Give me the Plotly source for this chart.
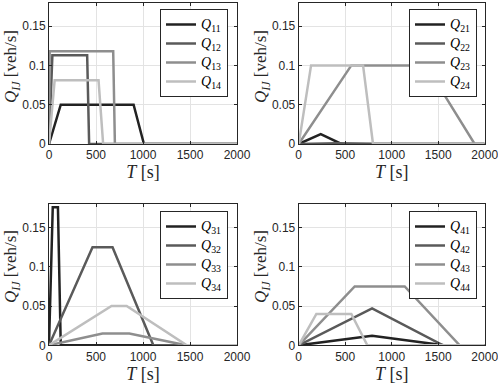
import plotly.graph_objects as go

# demand profiles Q_IJ(T)
t11 = [0, 125, 900, 1010, 2000]
q11 = [0, 0.05, 0.05, 0, 0]
t12 = [0, 36, 406, 427, 2000]
q12 = [0, 0.113, 0.113, 0, 0]
t13 = [0, 7, 683, 701, 2000]
q13 = [0, 0.118, 0.118, 0, 0]
t14 = [0, 60, 527, 576, 2000]
q14 = [0, 0.081, 0.081, 0, 0]

t21 = [0, 237, 459, 2000]
q21 = [0, 0.0127, 0, 0]
t22 = [0, 420, 820, 2000]
q22 = [0, 0.001, 0, 0]
t23 = [0, 566, 1370, 1892, 2000]
q23 = [0, 0.1, 0.1, 0, 0]
t24 = [0, 133, 692, 799, 2000]
q24 = [0, 0.1, 0.1, 0, 0]

t31 = [0, 40, 95, 125, 2000]
q31 = [0, 0.176, 0.176, 0, 0]
t32 = [0, 463, 676, 1110, 2000]
q32 = [0, 0.125, 0.125, 0, 0]
t33 = [0, 569, 854, 1459, 2000]
q33 = [0, 0.015, 0.015, 0, 0]
t34 = [0, 665, 826, 1466, 2000]
q34 = [0, 0.05, 0.05, 0, 0]

t41 = [0, 789, 1560, 2000]
q41 = [0, 0.012, 0, 0]
t42 = [0, 789, 1552, 2000]
q42 = [0, 0.047, 0, 0]
t43 = [0, 602, 1140, 1731, 2000]
q43 = [0, 0.075, 0.075, 0, 0]
t44 = [0, 190, 566, 738, 2000]
q44 = [0, 0.04, 0.04, 0, 0]

panels = [
    [(t11, q11, '11'), (t12, q12, '12'), (t13, q13, '13'), (t14, q14, '14')],
    [(t21, q21, '21'), (t22, q22, '22'), (t23, q23, '23'), (t24, q24, '24')],
    [(t31, q31, '31'), (t32, q32, '32'), (t33, q33, '33'), (t34, q34, '34')],
    [(t41, q41, '41'), (t42, q42, '42'), (t43, q43, '43'), (t44, q44, '44')],
]
colors = ['#222222', '#5a5a5a', '#8e8e8e', '#bebebe']

W, H = 498, 384
# plot areas in pixels: (left, right, top, bottom)
boxes = [(49, 237, 2.5, 144), (298.7, 484.7, 2.5, 144),
         (49, 237, 204, 345.3), (298.7, 484.7, 204, 345.3)]
legpos = [(228, 9), (477, 9), (228, 211), (477, 211)]
ytitle = [(12, 67), (262, 67), (12, 267), (262, 267)]

serif = 'Liberation Serif'
sans = 'Liberation Sans'
axcol = '#262626'

fig = go.Figure()
layout = dict(width=W, height=H, margin=dict(l=0, r=0, t=0, b=0),
              paper_bgcolor='white', plot_bgcolor='white')
annots = []

for i, series in enumerate(panels):
    n = '' if i == 0 else str(i + 1)
    leg = 'legend' + n
    for (t, q, lab), c in zip(series, colors):
        fig.add_trace(go.Scatter(
            x=t, y=q, mode='lines', line=dict(color=c, width=2.5),
            name='<span style="font-size:14px"><i>Q</i><sub>' + lab + '</sub></span>',
            xaxis='x' + n, yaxis='y' + n, legend=leg))
    l, r, tp, b = boxes[i]
    common = dict(showline=True, linecolor=axcol, linewidth=1, mirror='ticks',
                  ticks='inside', ticklen=3, tickcolor=axcol,
                  showgrid=True, gridcolor='#e3e3e3', gridwidth=1,
                  zeroline=False, automargin=False, ticklabeloverflow='allow',
                  tickfont=dict(family=sans, size=12, color=axcol))
    layout['xaxis' + n] = dict(common, domain=[l / W, r / W], range=[0, 2000],
                               tickvals=[0, 500, 1000, 1500, 2000],
                               anchor='y' + n,
                               title=dict(text='<i>T</i> [s]', standoff=2,
                                          font=dict(family=serif, size=18, color=axcol)))
    layout['yaxis' + n] = dict(common, domain=[1 - b / H, 1 - tp / H], range=[0, 0.18],
                               tickvals=[0, 0.05, 0.1, 0.15],
                               ticktext=['0', '0.05', '0.1', '0.15'],
                               anchor='x' + n)
    yx, yy = ytitle[i]
    annots.append(dict(text='<i>Q</i><sub><i>IJ</i></sub> [veh/s]', textangle=-90,
                       xref='paper', yref='paper', x=yx / W, y=1 - yy / H,
                       xanchor='center', yanchor='middle', showarrow=False,
                       font=dict(family=serif, size=17, color=axcol)))
    lx, ly = legpos[i]
    layout[leg] = dict(x=lx / W, y=1 - ly / H, xanchor='right', yanchor='top',
                       bgcolor='white', bordercolor=axcol, borderwidth=1,
                       font=dict(family=serif, size=12, color='black'),
                       tracegroupgap=0, itemwidth=30)

layout['annotations'] = annots
fig.update_layout(**layout)
# drop the default page margin so the figure sits at the window corner
fig.write_html("out.html", config={'displayModeBar': False},
               post_script="document.body.style.margin='0';")
